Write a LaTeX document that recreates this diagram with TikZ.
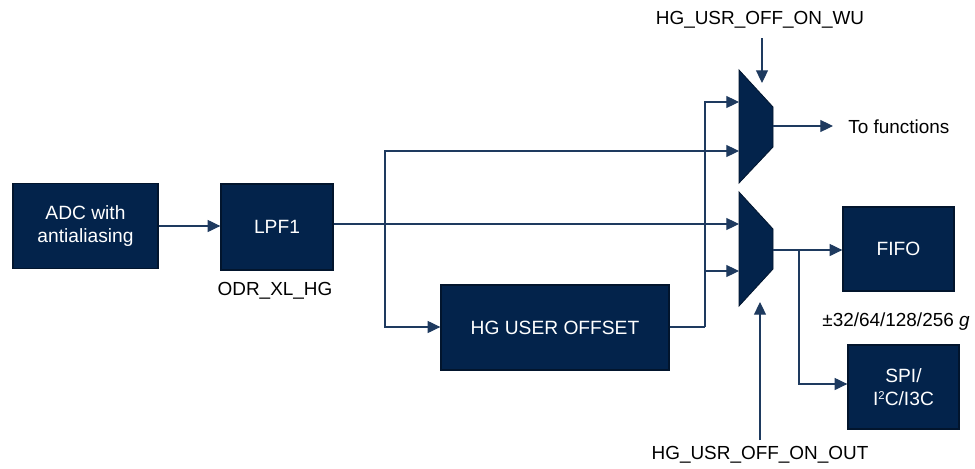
\documentclass[tikz,border=0pt]{standalone}
\usepackage{fontspec}
\setmainfont{Liberation Sans}
\usetikzlibrary{arrows.meta}
\definecolor{stblue}{HTML}{03234B}
\definecolor{stline}{HTML}{1E3A5F}
\begin{document}
\begin{tikzpicture}[x=0.75pt,y=-0.75pt,
  blk/.style={draw=stblue!60!black, line width=1pt, fill=stblue, text=white,
    font=\fontsize{14.4}{17}\selectfont, align=center, inner sep=0pt},
  conn/.style={draw=stline, line width=0.8pt},
  arr/.style={conn, -{Triangle[length=9.5pt,width=9pt]}},
  lbl/.style={font=\fontsize{14.2}{17}\selectfont, text=black, inner sep=0pt},
  muxshape/.style={fill=stblue, draw=stblue!60!black, line width=0.6pt}]
\useasboundingbox (0,0) rectangle (975,468);

% blocks
\node[blk, minimum width=108.75pt, minimum height=63.75pt] (adc) at (85.5,226) {ADC with\\antialiasing};
\node[blk, minimum width=84pt, minimum height=64.5pt] (lpf) at (277,227) {LPF1};
\node[blk, minimum width=171pt, minimum height=63.75pt] (hgo) at (555,327.5) {HG USER OFFSET};
\node[blk, minimum width=83.25pt, minimum height=63pt] (fifo) at (898.5,249) {FIFO};
\node[blk, minimum width=83.25pt, minimum height=63pt] (spi) at (903.5,387) {SPI/\\I\raisebox{0.55ex}{\fontsize{8.5}{9}\selectfont 2}C/I3C};

% multiplexers
\fill[muxshape] (739,70) -- (773,107) -- (773,147) -- (739,183) -- cycle;
\fill[muxshape] (739,192) -- (773,229) -- (773,269) -- (739,306) -- cycle;
\coordinate (m1in1) at (739,102);
\coordinate (m1in2) at (739,151);
\coordinate (m1out) at (773,126);
\coordinate (m1ctl) at (762,83);
\coordinate (m2in1) at (739,224);
\coordinate (m2in2) at (739,271);
\coordinate (m2out) at (773,250);
\coordinate (m2ctl) at (760,302);

% labels
\node[lbl] (odr) at (275,291) {ODR\_XL\_HG};
\node[lbl, anchor=west] (tofn) at (848,127) {To functions};
\node[lbl] (wu) at (760,20) {HG\_USR\_OFF\_ON\_WU};
\node[lbl] (out) at (760,455) {HG\_USR\_OFF\_ON\_OUT};
\node[lbl] (range) at (896,322) {±32/64/128/256 \textit{g}};

% junction coordinates
\coordinate (b1) at (385,224);
\coordinate (b2) at (705,327);
\coordinate (b3) at (799,250);
\coordinate (tofnend) at (833,126);

% connectors
\draw[arr] (adc.east |- 0,226) -- (lpf.west |- 0,226);
\draw[arr] (lpf.east |- m2in1) -- (m2in1);
\draw[arr] (b1) |- (m1in2);
\draw[arr] (b1) |- (hgo.west |- 0,327);
\draw[conn] (hgo.east |- b2) -- (b2);
\draw[arr] (b2) |- (m1in1);
\draw[arr] (b2 |- m2in2) -- (m2in2);
\draw[arr] (m1out) -- (tofnend);
\draw[arr] (m1ctl |- 0,38) -- (m1ctl);
\draw[arr] (m2out) -- (fifo.west |- m2out);
\draw[arr] (b3) |- (spi.west |- 0,384);
\draw[arr] (m2ctl |- 0,440) -- (m2ctl);
\end{tikzpicture}
\end{document}
